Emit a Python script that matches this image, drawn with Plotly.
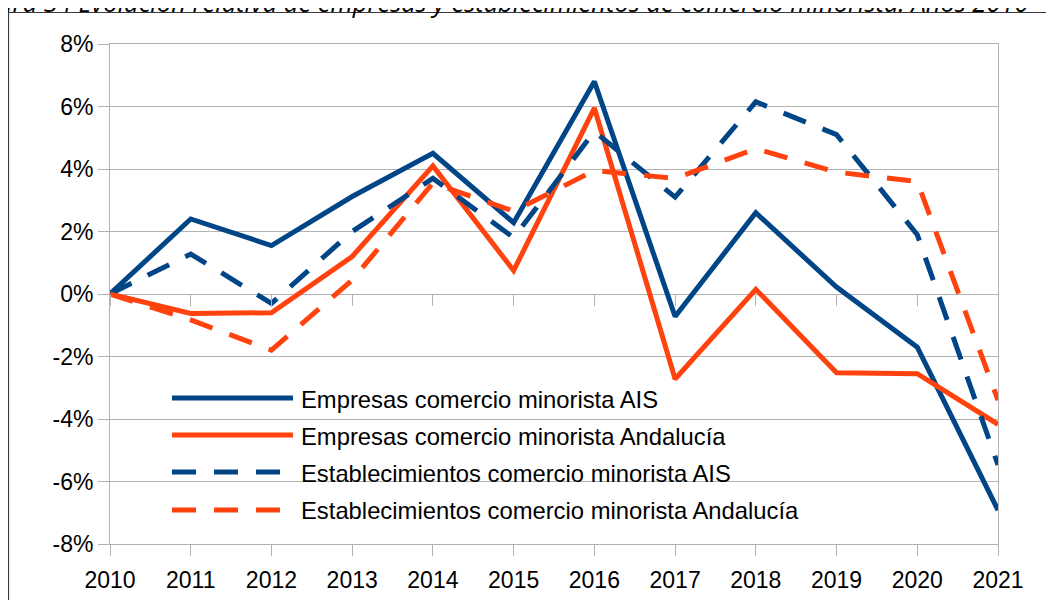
import plotly.graph_objects as go

years = [2010, 2011, 2012, 2013, 2014, 2015, 2016, 2017, 2018, 2019, 2020, 2021]
year_labels = [str(y) for y in years]

emp_ais = [0, 2.4, 1.55, 3.12, 4.5, 2.28, 6.8, -0.72, 2.6, 0.22, -1.7, -6.92]
emp_and = [0, -0.62, -0.6, 1.2, 4.1, 0.75, 5.95, -2.72, 0.15, -2.52, -2.55, -4.17]
est_ais = [0, 1.28, -0.3, 2.0, 3.7, 1.8, 5.2, 3.1, 6.15, 5.1, 1.9, -5.47]
est_and = [0, -0.83, -1.8, 0.45, 3.55, 2.65, 3.95, 3.7, 4.65, 3.9, 3.6, -3.4]

y_ticks = [-8, -6, -4, -2, 0, 2, 4, 6, 8]
y_ticklabels = ["-8%", "-6%", "-4%", "-2%", "0%", "2%", "4%", "6%", "8%"]

series_names = [
    "Empresas comercio minorista AIS",
    "Empresas comercio minorista Andalucía",
    "Establecimientos comercio minorista AIS",
    "Establecimientos comercio minorista Andalucía",
]
title_text = "Figura 34 Evolución relativa de empresas y establecimientos de comercio minorista. Años 2010 - 2021"

BLUE = "#004586"
ORANGE = "#ff420e"
GRID = "#b3b3b3"
DASH = "24px,18px"

series = [emp_ais, emp_and, est_ais, est_and]
colors = [BLUE, ORANGE, BLUE, ORANGE]
dashes = ["solid", "solid", DASH, DASH]

fig = go.Figure()
for name, vals, c, d in zip(series_names, series, colors, dashes):
    fig.add_trace(go.Scatter(
        x=years, y=vals, mode="lines", name=name,
        line=dict(color=c, width=5, dash=d),
        showlegend=False,
    ))

# invisible trace on xaxis2 so ticks at 0% are drawn
fig.add_trace(go.Scatter(x=years, y=[None] * len(years), xaxis="x2", showlegend=False,
                         hoverinfo="skip"))

# page offset (body margin) of 8px
OFF = 8
W, H = 1054, 600
L, T = 110 - OFF, 44 - OFF
pw, ph = 888, 500
R = W - L - pw
B = H - T - ph

def px_x(px):
    # px in page coordinates
    return (px - OFF - L) / pw

def px_y(py):
    return (T + ph - (py - OFF)) / ph

font_family = "Liberation Sans, Arial, sans-serif"

fig.update_layout(
    width=W, height=H,
    margin=dict(l=L, r=R, t=T, b=B, pad=0),
    paper_bgcolor="white", plot_bgcolor="white",
    font=dict(family=font_family, size=23, color="black"),
    xaxis=dict(
        range=[years[0], years[-1]],
        tickvals=years, ticktext=year_labels,
        showgrid=False, zeroline=False,
        showline=True, linecolor=GRID, linewidth=1, mirror=True,
        ticks="outside", ticklen=11, tickcolor=GRID, tickwidth=1,
        tickfont=dict(size=23), ticklabelstandoff=4,
    ),
    xaxis2=dict(
        range=[years[0], years[-1]], overlaying="x", anchor="free", position=0.5,
        tickvals=years, showticklabels=False, showgrid=False, zeroline=False,
        showline=False, ticks="outside", ticklen=11, tickcolor=GRID, tickwidth=1,
    ),
    yaxis=dict(
        range=[-8, 8], tickvals=y_ticks, ticktext=y_ticklabels,
        showgrid=True, gridcolor=GRID, gridwidth=1, zeroline=False,
        showline=True, linecolor=GRID, linewidth=1, mirror=True,
        ticks="outside", ticklen=11, tickcolor=GRID, tickwidth=1,
        tickfont=dict(size=23),
    ),
)

# outer frame (partially outside the view)
fig.add_shape(type="rect", xref="paper", yref="paper",
              x0=px_x(8.5), x1=px_x(1300), y0=px_y(12.5), y1=px_y(900),
              line=dict(color="#3a3a3a", width=1.2), fillcolor="rgba(0,0,0,0)", layer="below")

# title, cut off at top
fig.add_annotation(text="<i>" + title_text + "</i>", xref="paper", yref="paper",
                   x=px_x(-36), y=px_y(21), xanchor="left", yanchor="bottom",
                   showarrow=False, font=dict(family="Open Sans, sans-serif", size=25.5, color="black"))

# custom legend
leg_rows = [398, 435, 472, 510]
for name, c, d, ry in zip(series_names, colors, dashes, leg_rows):
    x_end = 293 if d == "solid" else 280
    fig.add_shape(type="line", xref="paper", yref="paper",
                  x0=px_x(172), x1=px_x(x_end), y0=px_y(ry), y1=px_y(ry),
                  line=dict(color=c, width=5, dash=d))
    fig.add_annotation(text=name, xref="paper", yref="paper",
                       x=px_x(299), y=px_y(ry + 1), xanchor="left", yanchor="middle",
                       showarrow=False, font=dict(family=font_family, size=23.8, color="black"))

fig.write_html("out.html")
